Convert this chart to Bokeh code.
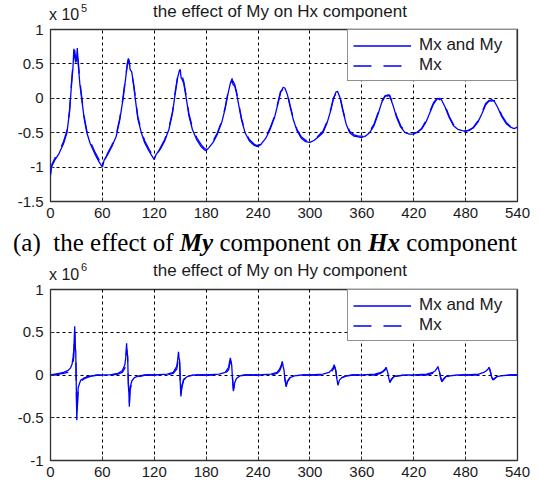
from bokeh.plotting import figure
from bokeh.models import Range1d, FixedTicker, Div
from bokeh.layouts import column
from bokeh.embed import file_html
from bokeh.resources import INLINE

# ---------------- data ----------------
x_ticks = [0, 60, 120, 180, 240, 300, 360, 420, 480, 540]
hx_yticks = [-1.5, -1, -0.5, 0, 0.5, 1]
hy_yticks = [-1, -0.5, 0, 0.5, 1]
hx_ylabels = {-1.5: "-1.5", -1: "-1", -0.5: "-0.5", 0: "0", 0.5: "0.5", 1: "1"}
hy_ylabels = {-1: "-1", -0.5: "-0.5", 0: "0", 0.5: "0.5", 1: "1"}

# Hx component (x 10^5)
hx_x = [0, 1, 5, 10, 15, 19, 22, 24, 26, 27, 28, 29, 30, 31, 32, 34, 36, 39, 42, 46, 51, 56,
        60, 62, 66, 71, 76, 80, 84, 87, 89, 90, 91, 92, 94, 96, 98, 101, 105, 109, 114, 118,
        120, 122, 127, 132, 137, 141, 144, 147, 149, 150, 151, 152, 154, 157, 160, 164, 169, 174, 178,
        180, 183, 188, 193, 198, 202, 205, 208, 210, 211, 213, 215, 218, 221, 225, 230, 235, 239,
        240, 244, 249, 254, 259, 263, 266, 269, 271, 274, 277, 281, 285, 290, 295,
        300, 305, 310, 315, 320, 324, 327, 330, 332, 335, 338, 342, 346, 351, 356,
        360, 364, 369, 374, 379, 383, 387, 390, 392, 396, 400, 405, 410, 415,
        420, 424, 429, 434, 439, 443, 447, 450, 452, 456, 461, 466, 471, 476,
        480, 484, 489, 494, 499, 503, 507, 510, 513, 517, 522, 527, 532, 536, 540]
hx_both = [-1.12, -1.0, -0.9, -0.8, -0.66, -0.5, -0.2, 0.15, 0.45, 0.72, 0.6, 0.52, 0.55, 0.73, 0.5, 0.2, 0.0, -0.3, -0.5, -0.66, -0.8, -0.92,
           -1.0, -0.9, -0.82, -0.7, -0.55, -0.32, 0.0, 0.3, 0.52, 0.58, 0.55, 0.42, 0.38, 0.2, 0.0, -0.3, -0.5, -0.65, -0.77, -0.85,
           -0.89, -0.82, -0.74, -0.62, -0.45, -0.22, 0.05, 0.3, 0.4, 0.42, 0.3, 0.28, 0.22, 0.0, -0.25, -0.45, -0.6, -0.7, -0.75,
           -0.76, -0.72, -0.64, -0.52, -0.35, -0.15, 0.05, 0.22, 0.29, 0.2, 0.18, 0.08, -0.12, -0.32, -0.5, -0.62, -0.68, -0.7,
           -0.70, -0.66, -0.58, -0.45, -0.28, -0.08, 0.08, 0.16, 0.15, 0.05, -0.12, -0.32, -0.47, -0.58, -0.63,
           -0.64, -0.61, -0.56, -0.5, -0.35, -0.18, -0.02, 0.09, 0.1, 0.0, -0.18, -0.38, -0.5, -0.55, -0.56,
           -0.57, -0.55, -0.5, -0.4, -0.22, -0.06, 0.03, 0.05, 0.04, -0.1, -0.27, -0.42, -0.5, -0.52,
           -0.52, -0.49, -0.45, -0.35, -0.2, -0.08, -0.01, 0.0, -0.02, -0.12, -0.28, -0.4, -0.45, -0.47,
           -0.48, -0.46, -0.43, -0.35, -0.22, -0.1, -0.04, -0.02, -0.04, -0.13, -0.27, -0.37, -0.42, -0.44, -0.42]
hx_mx = [-1.1, -0.98, -0.87, -0.77, -0.63, -0.47, -0.18, 0.18, 0.5, 0.62, 0.7, 0.58, 0.5, 0.62, 0.55, 0.25, 0.03, -0.27, -0.47, -0.63, -0.77, -0.89,
         -0.97, -0.92, -0.8, -0.68, -0.52, -0.3, 0.03, 0.33, 0.5, 0.55, 0.5, 0.45, 0.35, 0.22, 0.03, -0.27, -0.47, -0.62, -0.74, -0.83,
         -0.86, -0.84, -0.72, -0.6, -0.42, -0.2, 0.08, 0.32, 0.36, 0.38, 0.37, 0.33, 0.25, 0.03, -0.22, -0.42, -0.57, -0.67, -0.73,
         -0.74, -0.73, -0.62, -0.5, -0.33, -0.13, 0.07, 0.2, 0.24, 0.25, 0.2, 0.1, -0.1, -0.3, -0.48, -0.6, -0.66, -0.69,
         -0.68, -0.67, -0.56, -0.43, -0.26, -0.06, 0.1, 0.13, 0.14, 0.07, -0.1, -0.3, -0.45, -0.56, -0.61,
         -0.62, -0.62, -0.54, -0.48, -0.33, -0.16, 0.0, 0.07, 0.1, 0.02, -0.16, -0.36, -0.48, -0.53, -0.55,
         -0.55, -0.56, -0.48, -0.38, -0.2, -0.04, 0.04, 0.03, 0.05, -0.08, -0.25, -0.4, -0.48, -0.51,
         -0.5, -0.5, -0.44, -0.33, -0.18, -0.06, 0.0, -0.02, -0.01, -0.1, -0.26, -0.38, -0.44, -0.46,
         -0.47, -0.47, -0.42, -0.33, -0.2, -0.08, -0.03, -0.04, -0.03, -0.11, -0.25, -0.35, -0.41, -0.43, -0.41]

# Hy component (x 10^6)
hy_x = [0, 5, 10, 15, 20, 23, 25, 26, 27, 28, 28.6, 29.2, 29.8, 30.4, 31.2, 32, 33.5, 35, 38, 42, 48, 55,
        60, 70, 78, 83, 86, 87, 88, 88.6, 89.2, 90, 90.6, 91.2, 92, 94, 97, 102, 110,
        120, 135, 142, 146, 147, 148, 148.6, 149.3, 150, 150.8, 152, 154, 158, 165,
        180, 195, 202, 206, 207, 208, 208.7, 209.5, 210.5, 211.5, 213, 215, 219, 225,
        240, 255, 262, 265, 267, 268, 269, 270, 271, 272.5, 274, 277, 282, 290,
        300, 315, 322, 325, 327, 328, 329, 330, 331, 332.5, 334, 337, 342, 350,
        360, 375, 382, 385, 387, 388, 389, 390, 391, 392.5, 394, 397, 402, 410,
        420, 435, 442, 445, 447, 448, 449, 450, 451, 452.5, 454, 457, 462, 470,
        480, 495, 501, 504, 506, 507, 508, 509, 510, 511.5, 513, 516, 521, 530, 540]
hy_both = [0.0, 0.01, 0.02, 0.03, 0.05, 0.08, 0.13, 0.2, 0.3, 0.57, 0.3, 0.28, -0.12, -0.53, -0.3, -0.15, -0.1, -0.06, -0.04, -0.02, -0.01, 0.0,
           0.0, 0.005, 0.02, 0.05, 0.12, 0.2, 0.37, 0.25, 0.22, -0.1, -0.2, -0.37, -0.15, -0.07, -0.03, -0.01, 0.0,
           0.0, 0.01, 0.03, 0.1, 0.17, 0.27, 0.2, 0.17, -0.08, -0.25, -0.12, -0.05, -0.02, 0.0,
           0.0, 0.01, 0.03, 0.09, 0.15, 0.2, 0.15, 0.12, -0.05, -0.19, -0.09, -0.04, -0.01, 0.0,
           0.0, 0.01, 0.03, 0.07, 0.12, 0.16, 0.1, 0.06, -0.05, -0.14, -0.07, -0.03, -0.01, 0.0,
           0.0, 0.01, 0.03, 0.06, 0.09, 0.12, 0.08, 0.05, -0.04, -0.12, -0.06, -0.03, -0.01, 0.0,
           0.0, 0.01, 0.03, 0.05, 0.07, 0.09, 0.06, 0.03, -0.03, -0.09, -0.05, -0.02, -0.01, 0.0,
           0.0, 0.01, 0.03, 0.05, 0.08, 0.1, 0.06, 0.03, -0.03, -0.08, -0.05, -0.02, -0.01, 0.0,
           0.0, 0.01, 0.03, 0.05, 0.07, 0.09, 0.06, 0.03, -0.02, -0.06, -0.04, -0.02, -0.01, 0.0, 0.0]
hy_mx = [0.0, 0.0, 0.01, 0.02, 0.03, 0.05, 0.09, 0.14, 0.22, 0.5, 0.35, 0.25, -0.1, -0.48, -0.35, -0.18, -0.12, -0.08, -0.05, -0.03, -0.01, 0.0,
         0.0, 0.0, 0.01, 0.03, 0.08, 0.15, 0.3, 0.28, 0.2, -0.08, -0.25, -0.33, -0.18, -0.09, -0.04, -0.02, 0.0,
         0.0, 0.0, 0.02, 0.07, 0.13, 0.22, 0.21, 0.15, -0.06, -0.22, -0.14, -0.06, -0.02, 0.0,
         0.0, 0.0, 0.02, 0.06, 0.12, 0.17, 0.16, 0.1, -0.04, -0.17, -0.1, -0.05, -0.01, 0.0,
         0.0, 0.0, 0.02, 0.05, 0.1, 0.13, 0.11, 0.05, -0.04, -0.12, -0.08, -0.03, -0.01, 0.0,
         0.0, 0.0, 0.02, 0.04, 0.07, 0.1, 0.09, 0.04, -0.03, -0.1, -0.07, -0.03, -0.01, 0.0,
         0.0, 0.0, 0.02, 0.04, 0.06, 0.08, 0.07, 0.02, -0.02, -0.08, -0.06, -0.02, -0.01, 0.0,
         0.0, 0.0, 0.02, 0.04, 0.06, 0.08, 0.07, 0.02, -0.02, -0.07, -0.06, -0.02, -0.01, 0.0,
         0.0, 0.0, 0.02, 0.04, 0.06, 0.08, 0.07, 0.02, -0.02, -0.05, -0.05, -0.02, -0.01, 0.0, 0.0]

series_names = ["Mx and My", "Mx"]
titles = ["the effect of My on Hx component", "the effect of My on Hy component"]
exponents = ["5", "6"]

BLUE = "#0000ff"
SANS = "Liberation Sans"


def make_fig(height, ylo, yhi, yticks, ylabels, xs, y_both, y_mx):
    p = figure(width=540, height=height, x_range=Range1d(0, 540), y_range=Range1d(ylo, yhi),
               output_backend="svg", toolbar_location=None,
               min_border_left=50, min_border_right=23, min_border_top=9, min_border_bottom=24)
    p.background_fill_color = "white"
    p.border_fill_color = "white"
    p.outline_line_color = "#333333"
    p.outline_line_width = 1.3
    p.outline_line_alpha = 1

    p.xaxis.ticker = FixedTicker(ticks=x_ticks)
    p.yaxis.ticker = FixedTicker(ticks=yticks)
    p.yaxis.major_label_overrides = ylabels
    for ax in (p.xaxis[0], p.yaxis[0]):
        ax.axis_line_color = None
        ax.major_tick_in = 4
        ax.major_tick_out = 0
        ax.major_tick_line_color = "#333333"
        ax.minor_tick_line_color = None
        ax.major_label_text_font = SANS
        ax.major_label_text_font_size = "15px"
        ax.major_label_text_color = "#1a1a1a"
    p.xaxis.major_label_standoff = 6
    p.yaxis.major_label_standoff = 7

    for g in (p.xgrid[0], p.ygrid[0]):
        g.grid_line_color = "#000000"
        g.grid_line_dash = "3 3"
        g.grid_line_width = 1
        g.grid_line_alpha = 1

    p.line(xs, y_both, line_color=BLUE, line_width=1.3, legend_label=series_names[0])
    p.line(xs, y_mx, line_color=BLUE, line_width=1.3, line_dash="18 12", legend_label=series_names[1])

    lg = p.legend[0]
    lg.location = "top_right"
    lg.margin = 0
    lg.padding = 5
    lg.spacing = 0
    lg.glyph_width = 58
    lg.glyph_height = 19
    lg.label_height = 19
    lg.label_width = 92
    lg.label_standoff = 8
    lg.label_text_font = SANS
    lg.label_text_font_size = "17px"
    lg.label_text_color = "#1a1a1a"
    lg.border_line_color = "#222222"
    lg.border_line_width = 1
    lg.background_fill_alpha = 1
    return p


def title_div(height, title, exp, top_x10, top_exp, top_title):
    html = (
        "<div style=\"position:relative;width:540px;height:%dpx;font-family:'Liberation Sans';color:#1a1a1a;\">"
        "<span style=\"position:absolute;left:49px;top:%dpx;font-size:16px;line-height:16px;white-space:nowrap;\">x 10</span>"
        "<span style=\"position:absolute;left:81px;top:%dpx;font-size:11px;line-height:11px;\">%s</span>"
        "<span style=\"position:absolute;left:0px;top:%dpx;width:560px;text-align:center;font-size:17px;"
        "line-height:17px;white-space:nowrap;\">%s</span>"
        "</div>"
    ) % (height, top_x10, top_exp, exp, top_title, title)
    return Div(text=html, width=540, height=height, margin=0)


t1 = title_div(20, titles[0], exponents[0], 7, 3, 3)
p1 = make_fig(205, -1.5, 1, hx_yticks, hx_ylabels, hx_x, hx_both, hx_mx)

caption = Div(
    text=("<div style=\"font-family:'Liberation Serif';font-size:25px;line-height:25px;"
          "padding:5px 0 0 13px;white-space:nowrap;color:#000\">"
          "(a)&nbsp; the effect of <b><i>My</i></b> component on <b><i>Hx</i></b> component</div>"),
    width=540, height=37, margin=0)

t2 = title_div(18, titles[1], exponents[1], 5, 0, 0)
p2 = make_fig(204, -1, 1, hy_yticks, hy_ylabels, hy_x, hy_both, hy_mx)

layout = column(t1, p1, caption, t2, p2, spacing=0)
open("out.html", "w").write(file_html(layout, INLINE))
